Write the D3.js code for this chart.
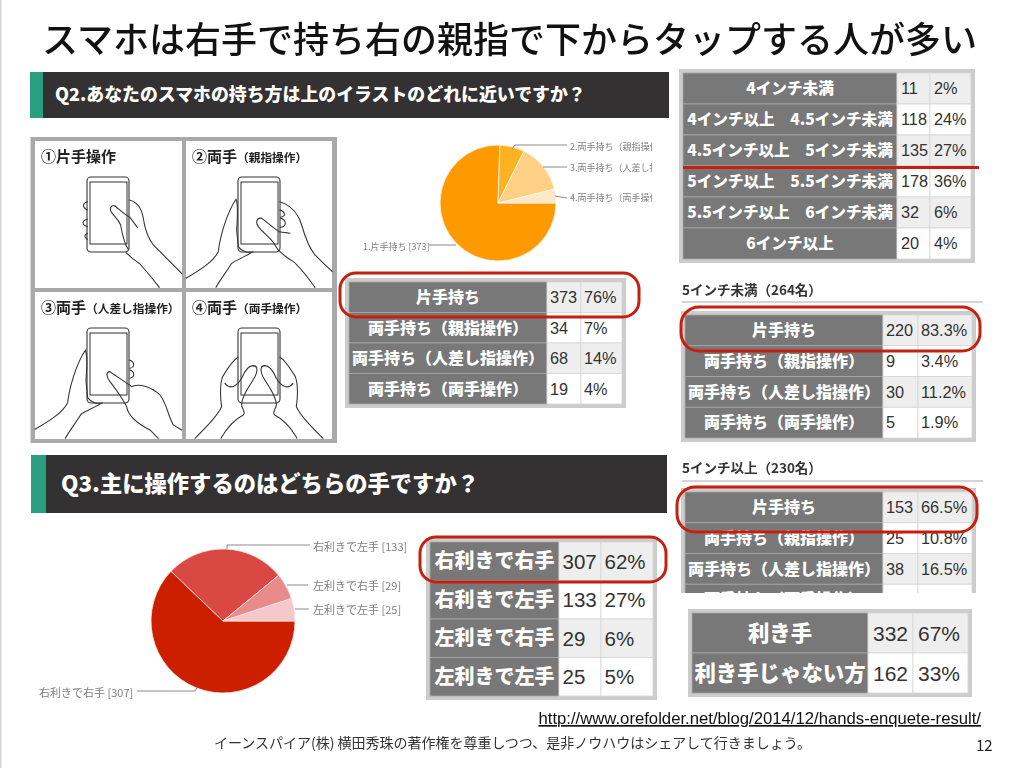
<!DOCTYPE html>
<html>
<head>
<meta charset="utf-8">
<script src="https://cdn.jsdelivr.net/npm/d3@7"></script>
<style>
    html, body { margin: 0; padding: 0; background: white; }
    svg { display: block; }
    text { font-family: "Noto Sans CJK JP", "Liberation Sans", sans-serif; }
    .num { font-family: "Liberation Sans", Arimo, sans-serif; fill: #333; }
    .soft { filter: blur(0.45px); }
</style>
</head>
<body>
<svg id="slide" width="1024" height="768"></svg>
<script>
// pie data
var q2Labels = ["1.片手持ち [373]", "2.両手持ち（親指操作） [34]", "3.両手持ち（人差し指操作） [68]", "4.両手持ち（両手操作） [19]"];
var q2Values = [373, 34, 68, 19];
var q2Colors = ["#ff9900", "#fdb222", "#fdd085", "#fde8c8"];

var q3Labels = ["右利きで右手 [307]", "右利きで左手 [133]", "左利きで右手 [29]", "左利きで左手 [25]"];
var q3Values = [307, 133, 29, 25];
var q3Colors = ["#cc1f00", "#d94843", "#e88b8b", "#f5c9c9"];

// table data
var holdRows = ["片手持ち", "両手持ち（親指操作）", "両手持ち（人差し指操作）", "両手持ち（両手操作）"];
var holdCounts = ["373", "34", "68", "19"];
var holdPcts = ["76%", "7%", "14%", "4%"];

var sizeRows = ["4インチ未満", "4インチ以上　4.5インチ未満", "4.5インチ以上　5インチ未満", "5インチ以上　5.5インチ未満", "5.5インチ以上　6インチ未満", "6インチ以上"];
var sizeCounts = ["11", "118", "135", "178", "32", "20"];
var sizePcts = ["2%", "24%", "27%", "36%", "6%", "4%"];

var underCounts = ["220", "9", "30", "5"];
var underPcts = ["83.3%", "3.4%", "11.2%", "1.9%"];

// last row of this one is cut off in the picture, its numbers can't be read
var overCounts = ["153", "25", "38", ""];
var overPcts = ["66.5%", "10.8%", "16.5%", ""];

var handRows = ["右利きで右手", "右利きで左手", "左利きで右手", "左利きで左手"];
var handCounts = ["307", "133", "29", "25"];
var handPcts = ["62%", "27%", "6%", "5%"];

var domRows = ["利き手", "利き手じゃない方"];
var domCounts = ["332", "162"];
var domPcts = ["67%", "33%"];

var panelTitles = [
    ["①片手操作", ""],
    ["②両手", "（親指操作）"],
    ["③両手", "（人差し指操作）"],
    ["④両手", "（両手操作）"]
];

var svg = d3.select("#slide");
var RED = "#c5200f";

// thin grey edge of the slide
svg.append("rect").attr("x", 0).attr("y", 0).attr("width", 1.5).attr("height", 768).attr("fill", "#d4d4d4");

var art = svg.append("g").attr("class", "soft");

svg.append("text")
    .attr("x", 509.5).attr("y", 53)
    .attr("text-anchor", "middle")
    .attr("font-size", 36)
    .attr("font-weight", 500)
    .attr("fill", "#111")
    .text("スマホは右手で持ち右の親指で下からタップする人が多い");

// question bars
function header(x, y, w, h, greenW, label, size, textX) {
    art.append("rect").attr("x", x).attr("y", y).attr("width", w).attr("height", h).attr("fill", "#333131");
    art.append("rect").attr("x", x).attr("y", y).attr("width", greenW).attr("height", h).attr("fill", "#2a9f7f");
    art.append("text")
        .attr("x", textX).attr("y", y + h / 2)
        .attr("dy", "0.36em")
        .attr("font-size", size)
        .attr("font-weight", 900)
        .attr("fill", "white")
        .text(label);
}
header(30, 72, 639, 46, 13, "Q2.あなたのスマホの持ち方は上のイラストのどれに近いですか？", 17.9, 55);
header(31, 455, 636, 58, 15, "Q3.主に操作するのはどちらの手ですか？", 22.3, 61);

// pies
function drawPie(cx, cy, r, values, colors, edge) {
    var pie = d3.pie().sort(null).startAngle(Math.PI / 2).endAngle(Math.PI * 2.5);
    var arc = d3.arc().innerRadius(0).outerRadius(r);
    art.append("g")
        .attr("transform", "translate(" + cx + "," + cy + ")")
        .selectAll("path")
        .data(pie(values))
        .enter()
        .append("path")
        .attr("d", arc)
        .attr("fill", (d, i) => colors[i])
        .attr("stroke", edge)
        .attr("stroke-width", 0.8);
}

function leaders(items, size) {
    var g = art.append("g");
    items.forEach(function(it) {
        g.append("polyline")
            .attr("points", it.line)
            .attr("fill", "none")
            .attr("stroke", "#8a8a8a")
            .attr("stroke-width", 1);
        var t = g.append("text")
            .attr("x", it.x).attr("y", it.y)
            .attr("dy", "0.36em")
            .attr("font-size", size)
            .attr("fill", "#808080")
            .text(it.label);
        if (it.clip) t.attr("clip-path", "url(#" + it.clip + ")");
    });
}

svg.append("clipPath").attr("id", "pieClip")
    .append("rect").attr("x", 560).attr("y", 130).attr("width", 92).attr("height", 90);

drawPie(498, 203, 58, q2Values, q2Colors, "#fff6e6");
leaders([
    { label: q2Labels[0], x: 363, y: 247, line: "429,245 456,245" },
    { label: q2Labels[1], x: 570, y: 147, line: "512,149 515,145 567,145", clip: "pieClip" },
    { label: q2Labels[2], x: 570, y: 168, line: "543,167 567,167", clip: "pieClip" },
    { label: q2Labels[3], x: 570, y: 198, line: "555,196 567,198", clip: "pieClip" }
], 9);

drawPie(223, 621, 72, q3Values, q3Colors, "#fbe3e0");
leaders([
    { label: q3Labels[0], x: 39, y: 693, line: "137,691 195,691 197,688" },
    { label: q3Labels[1], x: 313, y: 547, line: "227,549 227,545 310,545" },
    { label: q3Labels[2], x: 313, y: 586, line: "287,585 308,585" },
    { label: q3Labels[3], x: 313, y: 610, line: "295,609 309,609" }
], 11);

// tables, cols = [labelLeft, countLeft, pctLeft, right]
function drawTable(o) {
    var root = art.append("g");
    if (o.clipBottom) {
        var id = "clip" + o.top;
        svg.append("clipPath").attr("id", id)
            .append("rect").attr("x", 0).attr("y", 0).attr("width", 1024).attr("height", o.clipBottom);
        root.attr("clip-path", "url(#" + id + ")");
    }
    var y = d3.scaleBand().domain(d3.range(o.rows.length)).range([o.top, o.bottom]);
    var c = o.cols;
    var pad = o.pad || 3;
    root.append("rect")
        .attr("x", c[0] - 4).attr("y", o.top - 4)
        .attr("width", c[3] - c[0] + 8).attr("height", o.bottom - o.top + 8)
        .attr("fill", "#cccccc");

    var row = root.selectAll("g.row")
        .data(o.rows)
        .enter()
        .append("g")
        .attr("class", "row")
        .attr("transform", (d, i) => "translate(0," + y(i) + ")");

    var h = y.bandwidth();
    row.append("rect")
        .attr("x", c[0]).attr("y", 0)
        .attr("width", c[1] - c[0]).attr("height", h)
        .attr("fill", "#787878")
        .attr("stroke", "#a8a8a8").attr("stroke-width", 0.8);
    row.append("rect")
        .attr("x", c[1]).attr("y", 0)
        .attr("width", c[2] - c[1]).attr("height", h)
        .attr("fill", (d, i) => i % 2 ? "#ffffff" : "#eeeeee")
        .attr("stroke", "#d6d6d6").attr("stroke-width", 0.8);
    row.append("rect")
        .attr("x", c[2]).attr("y", 0)
        .attr("width", c[3] - c[2]).attr("height", h)
        .attr("fill", (d, i) => i % 2 ? "#ffffff" : "#eeeeee")
        .attr("stroke", "#d6d6d6").attr("stroke-width", 0.8);

    row.append("text")
        .attr("x", (c[0] + c[1]) / 2).attr("y", h / 2)
        .attr("dy", "0.36em")
        .attr("text-anchor", "middle")
        .attr("font-size", o.labelSize)
        .attr("font-weight", 900)
        .attr("fill", "white")
        .text(d => d);
    row.append("text")
        .attr("class", "num")
        .attr("x", c[1] + pad).attr("y", h / 2)
        .attr("dy", "0.36em")
        .attr("font-size", o.numSize)
        .text((d, i) => o.counts[i]);
    row.append("text")
        .attr("class", "num")
        .attr("x", c[2] + pad).attr("y", h / 2)
        .attr("dy", "0.36em")
        .attr("font-size", o.numSize)
        .text((d, i) => o.pcts[i]);
}

drawTable({ rows: sizeRows, counts: sizeCounts, pcts: sizePcts, cols: [683, 897, 930, 971], top: 73, bottom: 259, labelSize: 15.6, numSize: 16.3, pad: 4 });
drawTable({ rows: holdRows, counts: holdCounts, pcts: holdPcts, cols: [349, 547, 581, 622], top: 282, bottom: 404, labelSize: 16, numSize: 16.3 });
drawTable({ rows: holdRows, counts: underCounts, pcts: underPcts, cols: [685, 883, 918, 972], top: 315, bottom: 438, labelSize: 16, numSize: 16.3 });
drawTable({ rows: holdRows, counts: overCounts, pcts: overPcts, cols: [685, 883, 918, 972], top: 492, bottom: 615, labelSize: 16, numSize: 16.3, clipBottom: 593 });
drawTable({ rows: handRows, counts: handCounts, pcts: handPcts, cols: [430, 559, 601, 653], top: 542, bottom: 696, labelSize: 20, numSize: 20.5, pad: 3.5 });
drawTable({ rows: domRows, counts: domCounts, pcts: domPcts, cols: [692, 868, 913, 968], top: 613, bottom: 693, labelSize: 21.4, numSize: 21, pad: 5 });

// sub headings over the right tables
function subHead(label, baseY, lineY) {
    art.append("text").attr("x", 682).attr("y", baseY)
        .attr("font-size", 13.5).attr("font-weight", 700).attr("fill", "#333")
        .text(label);
    art.append("line").attr("x1", 682).attr("x2", 983).attr("y1", lineY).attr("y2", lineY)
        .attr("stroke", "#aaa").attr("stroke-width", 1);
}
subHead("5インチ未満（264名）", 295, 302);
subHead("5インチ以上（230名）", 473, 481);

// red marks
[
    [340, 273, 299, 44, 16],
    [681, 307, 299, 44, 18],
    [677, 487, 300, 45, 18],
    [420, 537, 246, 45, 16]
].forEach(function(r) {
    art.append("rect")
        .attr("x", r[0]).attr("y", r[1])
        .attr("width", r[2]).attr("height", r[3])
        .attr("rx", r[4])
        .attr("fill", "none")
        .attr("stroke", RED)
        .attr("stroke-width", 3);
});
art.append("line").attr("x1", 683).attr("x2", 979).attr("y1", 167.5).attr("y2", 167.5)
    .attr("stroke", RED).attr("stroke-width", 3);

// illustration block, hands are traced in 3x units so they get scaled down
var panels = [[35, 141], [186, 141], [35, 292], [186, 292]];
var ill = art.append("g");
ill.append("rect").attr("x", 30.5).attr("y", 137).attr("width", 306.5).attr("height", 306).attr("fill", "#a9a9a9");
panels.forEach(function(p, i) {
    ill.append("rect").attr("x", p[0]).attr("y", p[1]).attr("width", i % 2 ? 146 : 147).attr("height", 147).attr("fill", "white");
    ill.append("rect").attr("x", p[0] + 52).attr("y", p[1] + 36).attr("width", 42).attr("height", 75).attr("rx", 4)
        .attr("fill", "white").attr("stroke", "#333").attr("stroke-width", 1.1);
    ill.append("rect").attr("x", p[0] + 55).attr("y", p[1] + 41).attr("width", 37).attr("height", 62)
        .attr("fill", "white").attr("stroke", "#333").attr("stroke-width", 1);
    var t = ill.append("text")
        .attr("x", p[0] + 6).attr("y", p[1] + 21)
        .attr("font-size", 15).attr("font-weight", 700).attr("fill", "#222");
    t.append("tspan").text(panelTitles[i][0]);
    t.append("tspan").attr("font-size", 11.7).text(panelTitles[i][1]);
});

var handPaths = [
    // 1
    "M388,210 C410,215 425,235 430,265 C435,300 445,325 460,345 C490,375 520,405 545,430",
    "M345,228 C335,225 328,232 333,245 C345,262 355,268 362,285 C368,320 375,345 385,358",
    "M345,228 C360,240 375,255 390,262 L412,292",
    "M378,368 C395,385 410,395 420,402 C445,430 465,455 478,472",
    "M262,215 C248,220 245,230 262,240 M262,268 C245,272 245,285 262,290 M262,310 C252,315 252,322 262,328",
    // 2
    "M840,215 C870,225 895,250 905,285 C915,320 925,350 945,375 C960,390 980,410 997,425",
    "M785,265 C772,262 765,275 775,290 C790,310 815,325 825,345 C835,365 855,380 880,395 C900,410 925,445 945,472",
    "M785,265 C800,275 820,295 838,305 L870,310",
    "M840,240 C855,245 860,258 842,262 M842,265 C860,270 862,290 840,292",
    "M558,445 C600,420 640,395 655,365 C660,320 680,250 708,208 C716,225 712,265 710,300 L715,350 C725,365 745,370 760,365 C735,380 710,390 695,400 C680,425 660,450 648,472",
    // 3
    "M105,898 C148,873 188,848 203,818 C208,773 228,703 256,661 C264,678 260,718 258,753 L263,803 C273,818 293,823 308,818 C283,833 258,843 243,853 C228,878 208,903 196,925",
    "M330,725 C318,725 318,740 330,755 C345,775 365,800 380,830 C385,860 420,885 450,900 L475,925",
    "M330,725 C350,740 375,755 395,770 C420,760 455,770 480,795 C500,820 505,860 520,885 L545,900",
    "M388,690 C405,695 405,712 390,715 M390,720 C405,725 405,740 390,745"
];
// hand 4 is the same shape mirrored around the phone
var hand4 = [
    "M585,925 C620,890 650,860 665,830 C660,800 660,760 668,740 C680,720 700,690 714,682",
    "M760,707 C772,707 775,720 765,740 C745,775 730,790 725,820 C722,835 740,845 730,855 C700,870 680,895 663,925",
    "M760,707 C745,707 735,720 725,745 C710,770 690,780 675,760"
];
var trace = ill.append("g").attr("transform", "translate(0,130) scale(0.3333)")
    .attr("fill", "white").attr("stroke", "#333").attr("stroke-width", 3.2).attr("stroke-linecap", "round");
trace.selectAll("path.h").data(handPaths).enter().append("path").attr("class", "h")
    .attr("d", d => d).attr("fill", "none");
trace.selectAll("path.l").data(hand4).enter().append("path").attr("class", "l")
    .attr("d", d => d).attr("fill", "none");
trace.append("g").attr("transform", "translate(1554,0) scale(-1,1)")
    .selectAll("path").data(hand4).enter().append("path")
    .attr("d", d => d).attr("fill", "none");

// footer
svg.append("text")
    .attr("x", 538.5).attr("y", 724)
    .style("font-family", "'Liberation Sans', sans-serif")
    .attr("font-size", 16.7)
    .attr("fill", "#111")
    .attr("text-decoration", "underline")
    .text("http://www.orefolder.net/blog/2014/12/hands-enquete-result/");

svg.append("text")
    .attr("x", 214).attr("y", 748)
    .attr("font-size", 14)
    .attr("fill", "#333")
    .text("イーンスパイア(株) 横田秀珠の著作権を尊重しつつ、是非ノウハウはシェアして行きましょう。");

svg.append("text")
    .attr("x", 976).attr("y", 751)
    .attr("font-size", 15)
    .attr("fill", "#222")
    .text("12");
</script>
</body>
</html>
